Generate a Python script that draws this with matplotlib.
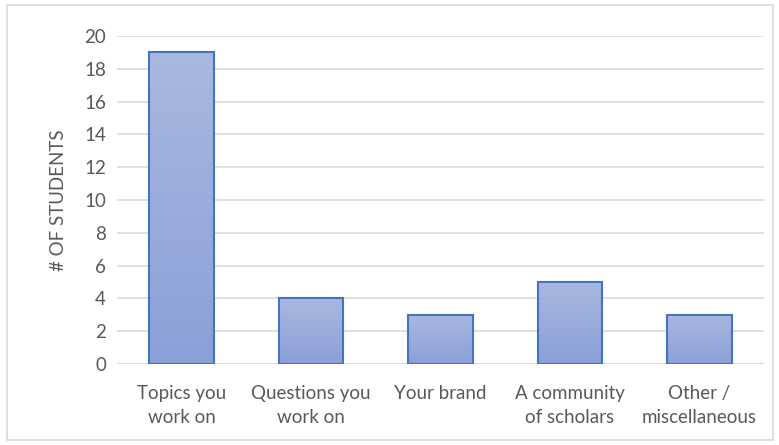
import numpy as np
import matplotlib.pyplot as plt
from matplotlib.colors import LinearSegmentedColormap
from matplotlib.patches import Rectangle

categories = ["Topics you\nwork on", "Questions you\nwork on", "Your brand",
              "A community\nof scholars", "Other /\nmiscellaneous"]
students = [19, 4, 3, 5, 3]

plt.rcParams['font.family'] = ['Lato', 'DejaVu Sans']
text_color = "#595959"
grid_color = "#D9D9D9"

fig = plt.figure(figsize=(7.79, 4.45), dpi=100)
ax = fig.add_axes([117 / 779, 1 - 364 / 445, (764 - 117) / 779, (364 - 36) / 445])

x = np.arange(len(categories))
bars = ax.bar(x, students, width=0.5, color="none", edgecolor="#4472C4",
              linewidth=1.5, zorder=3)

# vertical gradient fill inside each bar
grad = LinearSegmentedColormap.from_list("bluefill", ["#8AA0D8", "#AAB8DF"])
g = np.linspace(0, 1, 256).reshape(-1, 1)
for b in bars:
    x0, y0 = b.get_x(), b.get_y()
    w, h = b.get_width(), b.get_height()
    im = ax.imshow(g, cmap=grad, origin="lower", aspect="auto",
                   extent=(x0, x0 + w, y0, y0 + h), zorder=2)
    im.set_clip_path(b)

ax.set_xlim(-0.5, len(categories) - 0.5)
ax.set_ylim(0, 20)
ax.set_yticks(range(0, 21, 2))
ax.set_xticks(x)
ax.set_xticklabels(categories, linespacing=1.5)
ax.yaxis.grid(True, color=grid_color, linewidth=1.2, zorder=0)
ax.set_axisbelow(True)
for s in ax.spines.values():
    s.set_visible(False)
ax.axhline(0, color=grid_color, linewidth=1.2, zorder=1)
ax.tick_params(length=0, labelsize=13.5, colors=text_color, pad=8)
ax.tick_params(axis="x", pad=15)
ax.set_ylabel("# OF STUDENTS", fontsize=13.5, color=text_color, labelpad=12)

# light outer border around the chart
fig.patches.append(Rectangle((7 / 779, 5 / 445), 766 / 779, 435 / 445,
                             transform=fig.transFigure, fill=False,
                             edgecolor=grid_color, linewidth=1.2))

fig.savefig("out.png", dpi=100)
